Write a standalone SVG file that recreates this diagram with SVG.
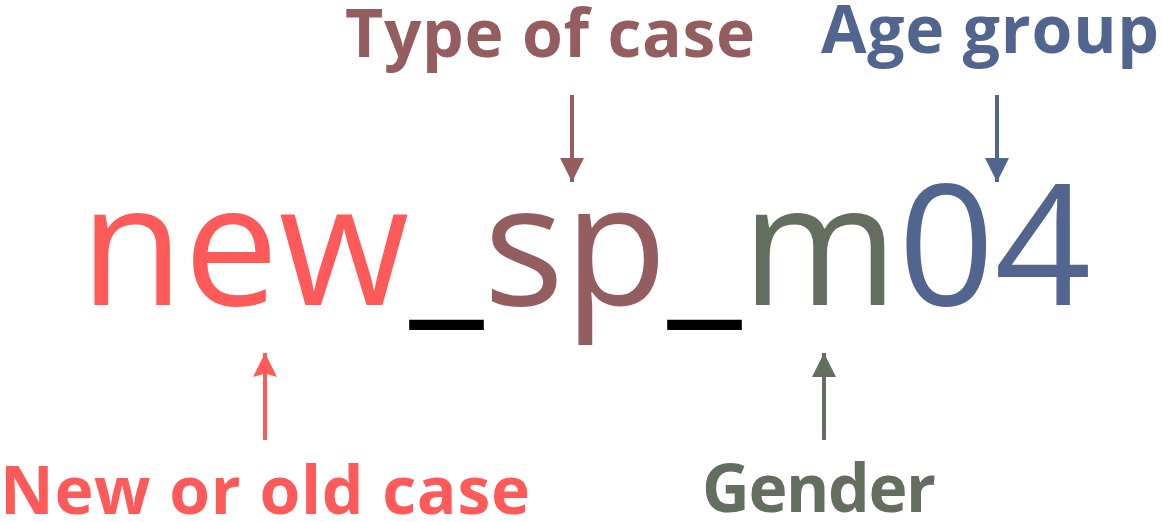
<svg xmlns="http://www.w3.org/2000/svg" width="1162" height="522" viewBox="0 0 1162 522">
<style>
.main{font-family:"Open Sans",sans-serif;font-size:169px;font-weight:400}
.lbl{font-family:"Open Sans",sans-serif;font-size:66px;font-weight:700}
.red{fill:#ff5a5a}.brn{fill:#945d5f}.grn{fill:#636e5e}.blu{fill:#51658e}.blk{fill:#000}
.ar{stroke-width:4;fill:none}
</style>
<defs>
<marker id="mr" viewBox="0 0 10 10" refX="10" refY="5" markerWidth="8" markerHeight="6" markerUnits="strokeWidth" orient="auto"><path d="M0,0 L10,5 L0,10 L1.5,5 z" fill="#ff5a5a"/></marker>
<marker id="mb" viewBox="0 0 10 10" refX="10" refY="5" markerWidth="8" markerHeight="6" markerUnits="strokeWidth" orient="auto"><path d="M0,0 L10,5 L0,10 z" fill="#945d5f"/></marker>
<marker id="mg" viewBox="0 0 10 10" refX="10" refY="5" markerWidth="8" markerHeight="6" markerUnits="strokeWidth" orient="auto"><path d="M0,0 L10,5 L0,10 z" fill="#636e5e"/></marker>
<marker id="mu" viewBox="0 0 10 10" refX="10" refY="5" markerWidth="8" markerHeight="6" markerUnits="strokeWidth" orient="auto"><path d="M0,0 L10,5 L0,10 z" fill="#51658e"/></marker>
</defs>
<g id="code">
<text class="main" x="80" y="305"><tspan class="red">new</tspan><tspan class="blk">_</tspan><tspan class="brn">sp</tspan><tspan class="blk">_</tspan><tspan class="grn">m</tspan><tspan class="blu">04</tspan></text>
</g>
<g id="label-type"><text class="lbl brn" x="345" y="57" textLength="410" lengthAdjust="spacing">Type of case</text></g>
<g id="label-age"><text class="lbl blu" x="821" y="53" textLength="338" lengthAdjust="spacing">Age group</text></g>
<g id="label-new"><text class="lbl red" x="0" y="514" textLength="530" lengthAdjust="spacing">New or old case</text></g>
<g id="label-gender"><text class="lbl grn" x="702" y="512" textLength="234" lengthAdjust="spacing">Gender</text></g>
<g id="connectors">
<line class="ar" x1="572" y1="95" x2="572" y2="182" stroke="#945d5f" marker-end="url(#mb)"/>
<line class="ar" x1="997" y1="95" x2="997" y2="182" stroke="#51658e" marker-end="url(#mu)"/>
<line class="ar" x1="265" y1="440" x2="265" y2="353" stroke="#ff5a5a" marker-end="url(#mr)"/>
<line class="ar" x1="824" y1="440" x2="824" y2="353" stroke="#636e5e" marker-end="url(#mg)"/>
</g>
</svg>
